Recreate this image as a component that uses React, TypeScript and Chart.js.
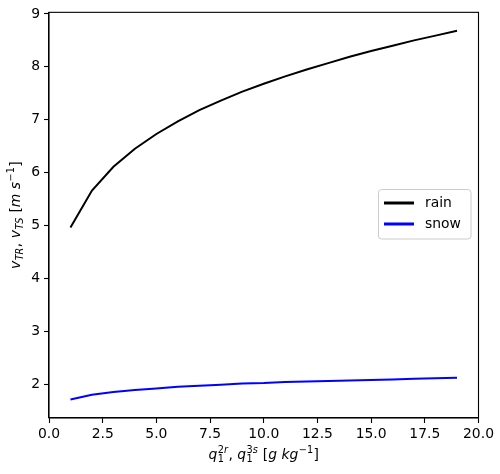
import React, { useEffect, useRef } from "react";
import { Chart, registerables } from "chart.js";

Chart.register(...registerables);

// ---- data ----
const massContent = [1, 2, 3, 4, 5, 6, 7, 8, 9, 10, 11, 12, 13, 14, 15, 16, 17, 18, 19];
const rainSpeed = [4.96, 5.66, 6.11, 6.45, 6.73, 6.97, 7.18, 7.36, 7.53, 7.68, 7.82, 7.95, 8.07, 8.19, 8.30, 8.40, 8.50, 8.59, 8.68];
const snowSpeed = [1.71, 1.80, 1.85, 1.89, 1.92, 1.95, 1.97, 1.99, 2.01, 2.02, 2.04, 2.05, 2.06, 2.07, 2.08, 2.09, 2.10, 2.11, 2.12];
const seriesLabels = ["rain", "snow"];
const seriesColors = ["#000000", "#0000ff"];
const yTickValues = [2, 3, 4, 5, 6, 7, 8, 9];
const xRange = [0, 20];
const yRange = [1.36, 9.03];

const FONT = '"DejaVu Sans", sans-serif';
const FS = 13.9;

type Run = { t: string; sub?: string; sup?: string };

const xTitle: Run[] = [
  { t: "q", sub: "1", sup: "2r" },
  { t: ", " },
  { t: "q", sub: "1", sup: "3s" },
  { t: " [" },
  { t: "g" },
  { t: " " },
  { t: "kg", sup: "\u22121" },
  { t: "]" },
];
const yTitle: Run[] = [
  { t: "v", sub: "TR" },
  { t: ", " },
  { t: "v", sub: "TS" },
  { t: " [" },
  { t: "m" },
  { t: " " },
  { t: "s", sup: "\u22121" },
  { t: "]" },
];

function styled(ctx: CanvasRenderingContext2D, s: string, x: number, y: number, size: number, draw: boolean) {
  let w = 0;
  for (const ch of s) {
    const it = /[A-Za-z]/.test(ch);
    ctx.font = `${it ? "italic " : ""}${size}px ${FONT}`;
    if (draw) ctx.fillText(ch, x + w, y);
    w += ctx.measureText(ch).width;
  }
  return w;
}

function runWidth(ctx: CanvasRenderingContext2D, r: Run, size: number) {
  const small = size * 0.7;
  let w = styled(ctx, r.t, 0, 0, size, false);
  const sw = Math.max(r.sub ? styled(ctx, r.sub, 0, 0, small, false) : 0, r.sup ? styled(ctx, r.sup, 0, 0, small, false) : 0);
  return w + sw + (sw ? 1 : 0);
}

function drawMath(ctx: CanvasRenderingContext2D, runs: Run[], cx: number, baseline: number, size: number) {
  const small = size * 0.7;
  const total = runs.reduce((a, r) => a + runWidth(ctx, r, size), 0);
  let x = cx - total / 2;
  ctx.fillStyle = "#000";
  ctx.textBaseline = "alphabetic";
  ctx.textAlign = "left";
  for (const r of runs) {
    const w = styled(ctx, r.t, x, baseline, size, true);
    let sw = 0;
    if (r.sub) sw = Math.max(sw, styled(ctx, r.sub, x + w + 0.5, baseline + size * 0.24, small, true));
    if (r.sup) sw = Math.max(sw, styled(ctx, r.sup, x + w + 0.5, baseline - size * 0.4, small, true));
    x += w + sw + (sw ? 1 : 0);
  }
}

const decorPlugin = {
  id: "decor",
  afterDatasetsDraw(chart: any) {
    const { ctx, chartArea: a } = chart;
    ctx.save();
    // frame
    ctx.strokeStyle = "#000";
    ctx.lineWidth = 1.1;
    ctx.strokeRect(a.left, a.top, a.right - a.left, a.bottom - a.top);

    // legend (center right)
    const bx = 378.5, by = 189.5, bw = 92.5, bh = 49.5, rad = 3;
    ctx.beginPath();
    ctx.moveTo(bx + rad, by);
    ctx.arcTo(bx + bw, by, bx + bw, by + bh, rad);
    ctx.arcTo(bx + bw, by + bh, bx, by + bh, rad);
    ctx.arcTo(bx, by + bh, bx, by, rad);
    ctx.arcTo(bx, by, bx + bw, by, rad);
    ctx.closePath();
    ctx.fillStyle = "rgba(255,255,255,0.8)";
    ctx.fill();
    ctx.strokeStyle = "#cccccc";
    ctx.lineWidth = 1;
    ctx.stroke();
    chart.data.datasets.forEach((ds: any, i: number) => {
      const ly = 203 + i * 21;
      ctx.beginPath();
      ctx.moveTo(384, ly);
      ctx.lineTo(414, ly);
      ctx.strokeStyle = ds.borderColor;
      ctx.lineWidth = 3;
      ctx.stroke();
      ctx.fillStyle = "#000";
      ctx.font = `${FS}px ${FONT}`;
      ctx.textBaseline = "middle";
      ctx.textAlign = "left";
      ctx.fillText(ds.label, 425, ly);
    });

    // axis titles
    drawMath(ctx, xTitle, (a.left + a.right) / 2, 458.5, FS);
    ctx.save();
    ctx.translate(20, (a.top + a.bottom) / 2);
    ctx.rotate(-Math.PI / 2);
    drawMath(ctx, yTitle, 0, 0, FS);
    ctx.restore();
    ctx.restore();
  },
};

export default function App() {
  const ref = useRef<HTMLCanvasElement | null>(null);
  useEffect(() => {
    document.body.style.margin = "0";
    const canvas = ref.current!;
    const mk = (vals: number[]) => massContent.map((x, i) => ({ x, y: vals[i] }));
    const chart = new Chart(canvas, {
      type: "line",
      data: {
        datasets: [
          { label: seriesLabels[0], data: mk(rainSpeed), borderColor: seriesColors[0], backgroundColor: seriesColors[0], borderWidth: 2, pointRadius: 0, tension: 0, fill: false },
          { label: seriesLabels[1], data: mk(snowSpeed), borderColor: seriesColors[1], backgroundColor: seriesColors[1], borderWidth: 2, pointRadius: 0, tension: 0, fill: false },
        ],
      },
      options: {
        responsive: false,
        animation: false,
        events: [],
        layout: { padding: { top: 10, right: 21.5, left: 0, bottom: 0 } },
        plugins: { legend: { display: false }, tooltip: { enabled: false }, title: { display: false } },
        scales: {
          x: {
            type: "linear",
            min: xRange[0],
            max: xRange[1],
            afterFit: (s: any) => { s.height = 56; },
            ticks: {
              stepSize: 2.5,
              color: "#000",
              font: { family: FONT, size: FS },
              padding: 3,
              maxRotation: 0,
              autoSkip: false,
              callback: (v: any) => Number(v).toFixed(1),
            },
            grid: { drawOnChartArea: false, drawTicks: true, tickLength: 5, tickColor: "#000", tickWidth: 1.1 },
            border: { display: true, color: "#000", width: 1.1 },
          },
          y: {
            type: "linear",
            min: yRange[0],
            max: yRange[1],
            afterFit: (s: any) => { s.width = 49; },
            afterBuildTicks: (s: any) => { s.ticks = yTickValues.map((v) => ({ value: v })); },
            ticks: {
              color: "#000",
              font: { family: FONT, size: FS },
              padding: 4,
              autoSkip: false,
              callback: (v: any) => String(v),
            },
            grid: { drawOnChartArea: false, drawTicks: true, tickLength: 5, tickColor: "#000", tickWidth: 1.1 },
            border: { display: true, color: "#000", width: 1.1 },
          },
        },
      },
      plugins: [decorPlugin],
    });
    return () => chart.destroy();
  }, []);
  return (
    <div style={{ width: 500, height: 474 }}>
      <canvas ref={ref} width={500} height={474} style={{ display: "block" }} />
    </div>
  );
}
